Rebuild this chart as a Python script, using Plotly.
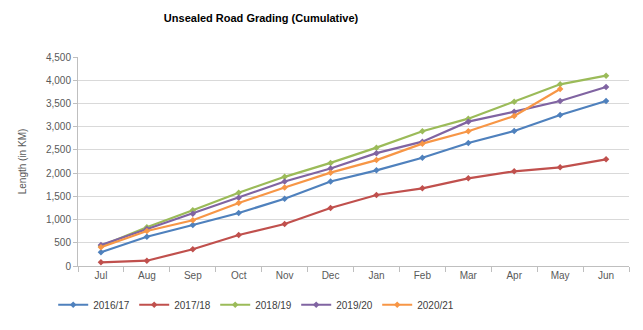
import plotly.graph_objects as go

months = ["Jul", "Aug", "Sep", "Oct", "Nov", "Dec", "Jan", "Feb", "Mar", "Apr", "May", "Jun"]
s2016 = [295, 631, 883, 1141, 1449, 1820, 2060, 2332, 2648, 2907, 3251, 3553]
s2017 = [80, 114, 360, 668, 904, 1249, 1529, 1673, 1888, 2039, 2125, 2297]
s2018 = [430, 833, 1199, 1579, 1920, 2220, 2548, 2900, 3172, 3538, 3912, 4098]
s2019 = [452, 797, 1127, 1471, 1820, 2100, 2430, 2677, 3108, 3323, 3553, 3854]
s2020 = [403, 754, 984, 1357, 1690, 2010, 2280, 2634, 2900, 3230, 3811]

series = [
    ("2016/17", s2016, "#4F81BD"),
    ("2017/18", s2017, "#C0504D"),
    ("2018/19", s2018, "#9BBB59"),
    ("2019/20", s2019, "#8064A2"),
    ("2020/21", s2020, "#F79646"),
]

fig = go.Figure()
for name, vals, col in series:
    fig.add_trace(go.Scatter(
        x=months[:len(vals)], y=vals, name=name, mode="lines+markers",
        line=dict(color=col, width=2.2),
        marker=dict(color=col, size=5, symbol="diamond"),
    ))

font = "Liberation Sans, Arial"
fig.update_layout(
    width=643, height=330,
    margin=dict(l=78, r=14, t=57, b=64, autoexpand=False),
    paper_bgcolor="white", plot_bgcolor="white",
    font=dict(family=font, size=10, color="#595959"),
    title=dict(text="<b>Unsealed Road Grading (Cumulative)</b>", x=0.406, xanchor="center",
               y=1 - 18 / 330, yanchor="middle",
               font=dict(family=font, size=11, color="#000000")),
    showlegend=True,
    legend=dict(orientation="h", x=-0.045, xref="paper", y=-0.116, yanchor="top", xanchor="left",
                font=dict(size=10, color="#404040"), itemwidth=30, tracegroupgap=0,
                entrywidth=36, entrywidthmode="pixels"),
    xaxis=dict(type="category", categoryorder="array", categoryarray=months,
               range=[-0.5, 11.5], showgrid=False, showline=True, linecolor="#BFBFBF", linewidth=1,
               ticks="outside", tickson="boundaries", ticklen=5, tickcolor="#BFBFBF",
               tickfont=dict(size=10, color="#595959"), automargin=False),
    yaxis=dict(range=[0, 4500], dtick=500, tickformat=",d", showgrid=True, gridcolor="#D9D9D9",
               gridwidth=1, showline=True, linecolor="#BFBFBF", linewidth=1, ticks="outside",
               ticklen=4, tickcolor="#BFBFBF", zeroline=False, automargin=False,
               title=dict(text="Length (in KM)", standoff=17, font=dict(size=10, color="#595959")),
               tickfont=dict(size=10, color="#595959")),
)

fig.write_html("out.html")
